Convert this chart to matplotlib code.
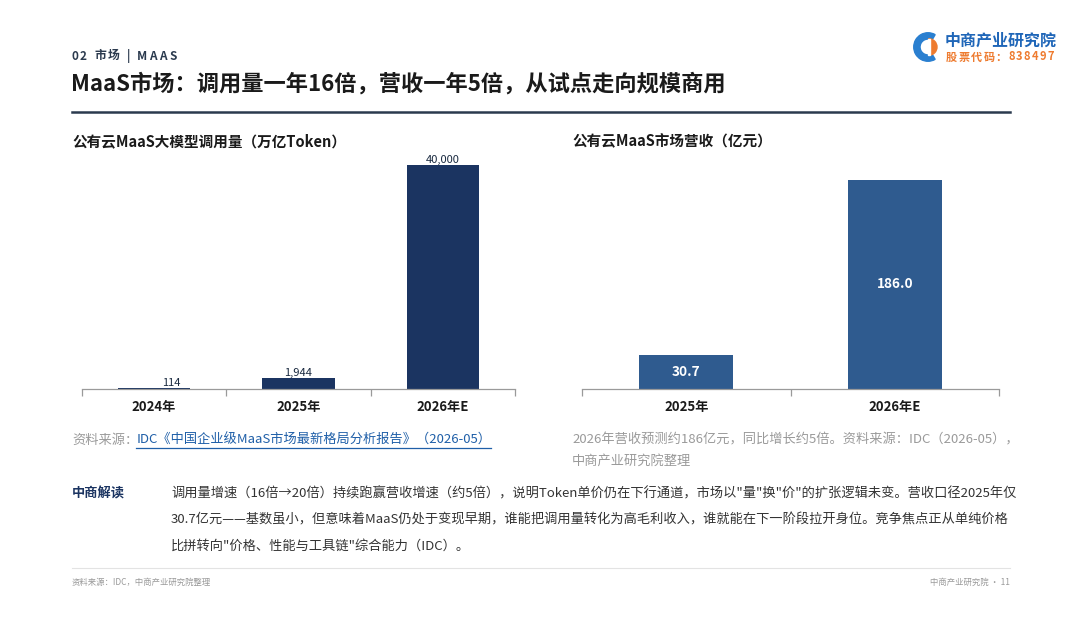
import matplotlib
matplotlib.use("Agg")
import matplotlib.pyplot as plt
from matplotlib.patches import Wedge, Rectangle
from matplotlib.lines import Line2D

plt.rcParams['font.family'] = ['Noto Sans CJK SC', 'DejaVu Sans']

# data
usage_years = ["2024年", "2025年", "2026年E"]
usage_values = [114, 1944, 40000]
revenue_years = ["2025年", "2026年E"]
revenue_values = [30.7, 186.0]

header = "02 市场 | MAAS"
title = "MaaS市场：调用量一年16倍，营收一年5倍，从试点走向规模商用"
left_title = "公有云MaaS大模型调用量（万亿Token）"
right_title = "公有云MaaS市场营收（亿元）"
left_src_label = "资料来源："
left_src = "IDC《中国企业级MaaS市场最新格局分析报告》（2026-05）"
right_note = ["2026年营收预测约186亿元，同比增长约5倍。资料来源：IDC（2026-05），",
              "中商产业研究院整理"]
comment_head = "中商解读"
comment_lines = [
    "调用量增速（16倍→20倍）持续跑赢营收增速（约5倍），说明Token单价仍在下行通道，市场以\"量\"换\"价\"的扩张逻辑未变。营收口径2025年仅",
    "30.7亿元——基数虽小，但意味着MaaS仍处于变现早期，谁能把调用量转化为高毛利收入，谁就能在下一阶段拉开身位。竞争焦点正从单纯价格",
    "比拼转向\"价格、性能与工具链\"综合能力（IDC）。",
]
footer_left = "资料来源：IDC，中商产业研究院整理"
footer_right = "中商产业研究院 · 11"

W, H = 1080, 623
NAVY = "#1b3461"
BLUE = "#2f5b8f"
LINK = "#1f5fa8"

fig = plt.figure(figsize=(W / 100, H / 100), dpi=100)
renderer = fig.canvas.get_renderer()


def fx(x):
    return x / W


def fy(y):
    return 1 - y / H


def txt(x, y, s, **kw):
    kw.setdefault("va", "center")
    return fig.text(fx(x), fy(y), s, **kw)


def spaced(x, y, s, gap, **kw):
    # draw char by char with extra letter spacing (pixels)
    for ch in s:
        t = txt(x, y, ch, **kw)
        w = t.get_window_extent(renderer).width
        if ch == " ":
            w = kw.get("fontsize", 10) * 0.3
        x += w + gap


def hline(x0, x1, y, **kw):
    fig.add_artist(Line2D([fx(x0), fx(x1)], [fy(y), fy(y)], transform=fig.transFigure, **kw))


# header
spaced(71, 56, header, 2.2, fontsize=8.5, fontweight="bold", color="#2b3a4e")
txt(71, 84, title, fontsize=16, fontweight="bold", color="#1a1a1a")
hline(72, 1010, 112, color="#2b3a4e", lw=1.8)

# logo
lax = fig.add_axes([fx(913), fy(62), fx(30), 30 / H])
lax.set_xlim(-1, 1)
lax.set_ylim(-1, 1)
lax.set_aspect("equal")
lax.axis("off")
lax.add_patch(Wedge((0, 0), 0.95, 60, 300, width=0.42, color="#2a7fd0"))
lax.add_patch(Wedge((0.05, 0), 0.55, -90, 90, color="#ee7b2f"))
lax.add_patch(Rectangle((0.02, -0.55), 0.1, 1.1, color="white"))
txt(945, 41, "中商产业研究院", fontsize=11.5, fontweight="bold", color="#1f66b8")
spaced(946, 57, "股票代码：838497", 1.3, fontsize=8, fontweight="bold", color="#ee7b2f")

# sub titles
txt(72, 141, left_title, fontsize=10.5, fontweight="bold", color="#1a1a1a")
txt(572, 141, right_title, fontsize=10.5, fontweight="bold", color="#1a1a1a")


def style_axis(ax, labels):
    n = len(labels)
    for s in ["top", "right", "left"]:
        ax.spines[s].set_visible(False)
    ax.spines["bottom"].set_color("#9a9a9a")
    ax.spines["bottom"].set_linewidth(0.9)
    ax.set_yticks([])
    ax.set_xlim(-0.5, n - 0.5)
    ax.set_xticks(range(n))
    ax.set_xticklabels(labels, fontweight="bold", color="#1a1a1a")
    ax.set_xticks([i - 0.5 for i in range(n + 1)], minor=True)
    ax.tick_params(axis="x", which="major", length=0, pad=8, labelsize=9.5)
    ax.tick_params(axis="x", which="minor", length=5, color="#9a9a9a", width=0.9)


# left chart
ax1 = fig.add_axes([fx(82), fy(389), fx(433), 239 / H])
ax1.bar(range(len(usage_values)), usage_values, width=0.5, color=NAVY)
ax1.set_ylim(0, 40000 * 239 / 224)
style_axis(ax1, usage_years)
for i, v in enumerate(usage_values):
    dx = 0.12 if i == 0 else 0
    ax1.text(i + dx, v, f"{v:,}", ha="center", va="bottom", fontsize=8, color="#1a2a40")

# right chart
ax2 = fig.add_axes([fx(582), fy(389), fx(417), 239 / H])
ax2.bar(range(len(revenue_values)), revenue_values, width=0.45, color=BLUE)
ax2.set_ylim(0, 186 * 239 / 209)
style_axis(ax2, revenue_years)
for i, v in enumerate(revenue_values):
    ax2.text(i, v / 2, f"{v:.1f}", ha="center", va="center", fontsize=9.8,
             fontweight="bold", color="white")

# sources
g = txt(72, 440, left_src_label, fontsize=9.5, color="#9a9a9a")
bb = g.get_window_extent(renderer)
b = fig.text((bb.x1 - 2) / W, fy(440), left_src, fontsize=9.5, color=LINK, va="center")
bb2 = b.get_window_extent(renderer)
hline(bb2.x0, bb2.x1, 448, color=LINK, lw=0.9)

for k, line in enumerate(right_note):
    txt(572, 440 + k * 21, line, fontsize=9.5, color="#9a9a9a")

# commentary
txt(72, 494, comment_head, fontsize=9.5, fontweight="bold", color=NAVY)
for k, line in enumerate(comment_lines):
    txt(171, 494 + k * 26, line, fontsize=9.5, color="#333333")

hline(72, 1010, 568, color="#e3e3e3", lw=0.8)
txt(72, 582, footer_left, fontsize=6, color="#999999")
txt(1010, 582, footer_right, fontsize=6, color="#999999", ha="right")

fig.savefig("out.png", dpi=100, facecolor="white")
